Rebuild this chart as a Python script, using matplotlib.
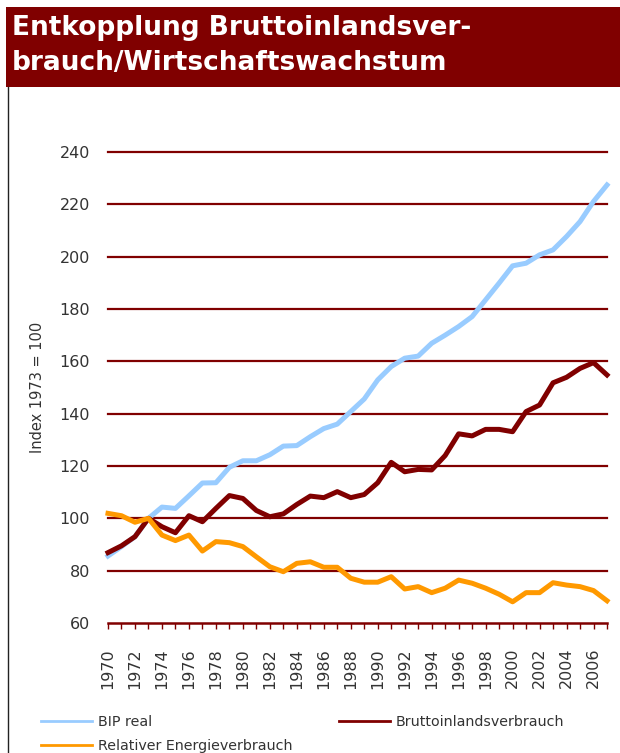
import matplotlib
matplotlib.use('Agg')
import matplotlib.pyplot as plt
from matplotlib.patches import Rectangle
from matplotlib.lines import Line2D
import numpy as np

years = list(range(1970, 2008))

bip_real = [85.6, 89.2, 93.0, 100.0, 104.3, 103.8, 108.6, 113.5, 113.6, 119.5,
            122.0, 122.0, 124.3, 127.6, 127.8, 131.2, 134.3, 136.0, 140.8, 145.6,
            152.9, 158.0, 161.2, 162.0, 166.9, 170.0, 173.3, 177.1, 183.5, 189.9,
            196.5, 197.5, 200.7, 202.6, 207.7, 213.4, 221.1, 227.4]

bruttoinlandsverbrauch = [86.9, 89.5, 93.0, 100.0, 96.8, 94.5, 101.0, 98.7, 103.8, 108.7,
                          107.6, 103.0, 100.6, 101.7, 105.3, 108.5, 107.9, 110.2, 107.9, 109.1,
                          113.6, 121.4, 117.8, 118.7, 118.5, 124.0, 132.3, 131.5, 134.0, 134.0,
                          133.1, 140.8, 143.3, 151.8, 153.9, 157.3, 159.5, 154.8]

relativer_energieverbrauch = [101.9, 101.0, 98.5, 100.0, 93.6, 91.5, 93.6, 87.5, 91.1, 90.7,
                              89.2, 85.3, 81.5, 79.6, 82.8, 83.4, 81.3, 81.3, 77.1, 75.6,
                              75.6, 77.7, 73.0, 73.9, 71.6, 73.3, 76.4, 75.2, 73.3, 71.0,
                              68.1, 71.6, 71.6, 75.4, 74.5, 73.9, 72.4, 68.5]

series_names = ['BIP real', 'Bruttoinlandsverbrauch', 'Relativer Energieverbrauch']
series_colors = ['#99CCFF', '#800000', '#FF9900']
y_ticks = [60, 80, 100, 120, 140, 160, 180, 200, 220, 240]
x_tick_years = list(range(1970, 2007, 2))

dark_red = '#800000'
text_col = '#333333'

fig = plt.figure(figsize=(6.2, 7.53), dpi=100)

# title banner
fig.patches.append(Rectangle((6 / 620, 1 - 87 / 753), 1 - 6 / 620, 80 / 753,
                             transform=fig.transFigure, facecolor=dark_red,
                             edgecolor='none', zorder=0))
fig.text(12 / 620, 1 - 35 / 753, 'Entkopplung Bruttoinlandsver-', color='white',
         fontsize=19, fontweight='bold', ha='left', va='baseline')
fig.text(12 / 620, 1 - 70 / 753, 'brauch/Wirtschaftswachstum', color='white',
         fontsize=19, fontweight='bold', ha='left', va='baseline')
# left border line
fig.lines.append(Line2D([7.5 / 620, 7.5 / 620], [0, 1 - 87 / 753],
                        transform=fig.transFigure, color='#222222', lw=1))

ax = fig.add_axes([108 / 620, 130 / 753, 499 / 620, 471 / 753])
ax.set_xlim(1970, 2007)
ax.set_ylim(60, 240)

data = [bip_real, bruttoinlandsverbrauch, relativer_energieverbrauch]
for vals, col, z in zip(data, series_colors, [3, 4, 5]):
    ax.plot(years, vals, color=col, lw=3.6, solid_joinstyle='round',
            clip_on=False, zorder=z)

for v in y_ticks[1:]:
    ax.axhline(v, color=dark_red, lw=1.6, zorder=1, clip_on=False)

for s in ['left', 'right', 'top']:
    ax.spines[s].set_visible(False)
ax.spines['bottom'].set_color(dark_red)
ax.spines['bottom'].set_linewidth(1.8)

ax.set_yticks(y_ticks)
ax.set_yticklabels([str(v) for v in y_ticks])
ax.tick_params(axis='y', length=0, pad=13, labelsize=11.5, labelcolor=text_col)

ax.set_xticks(years, minor=True)
ax.set_xticks(x_tick_years)
ax.set_xticklabels([str(y) for y in x_tick_years], rotation=90)
ax.tick_params(axis='x', which='both', length=4, width=1, color=dark_red,
               direction='out', labelsize=11.5, labelcolor=text_col, pad=14)

ax.set_ylabel('Index 1973 = 100', fontsize=10.5, color=text_col, labelpad=10)

handles = [Line2D([], [], color=c, lw=2) for c in series_colors]
fig.legend(handles[:2], series_names[:2], loc='upper left', ncol=2,
           bbox_to_anchor=(35 / 620, 1 - 709 / 753), frameon=False,
           fontsize=10.3, labelcolor=text_col, handlelength=3.6,
           handletextpad=0.4, columnspacing=13.05, borderaxespad=0)
fig.legend(handles[2:], series_names[2:], loc='upper left',
           bbox_to_anchor=(35 / 620, 1 - 733 / 753), frameon=False,
           fontsize=10.3, labelcolor=text_col, handlelength=3.6,
           handletextpad=0.4, borderaxespad=0)

fig.savefig('out.png', dpi=100, facecolor='white')
